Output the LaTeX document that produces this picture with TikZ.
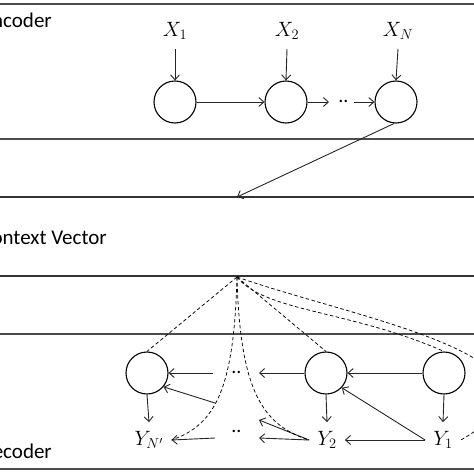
\documentclass[tikz,border=0pt]{standalone}
\usepackage{fontspec}
\setmainfont{Carlito}
\usetikzlibrary{arrows.meta}

\tikzset{
  cell/.style={draw,circle,minimum size=42pt,inner sep=0pt,line width=1.1pt},
  flow/.style={-{Straight Barb[length=5pt,width=9pt]},line width=0.9pt,draw=black!85},
  attn/.style={dash pattern=on 3.5pt off 2.5pt,line width=0.75pt},
  band/.style={line width=2.2pt,draw=black!70},
  thinband/.style={line width=1.4pt,draw=black!80},
  lbl/.style={font=\fontsize{21}{24}\selectfont,inner xsep=8pt,inner ysep=9pt},
  dots/.style={font=\fontsize{20}{24}\selectfont,inner sep=0pt},
  title/.style={font=\fontsize{21}{24}\selectfont,anchor=base east,inner sep=0pt},
}

\begin{document}
\begin{tikzpicture}[x=1pt,y=-1pt]
\useasboundingbox (0,0) rectangle (474,474);

% frame of the three parts
\draw[band] (0,4) -- (474,4);
\draw[band] (0,139) -- (474,139);
\draw[thinband] (0,197) -- (474,197);
\draw[thinband] (0,276) -- (474,276);
\draw[band] (0,334) -- (474,334);
\draw[band] (0,469) -- (474,469);

\node[title] (enc) at (52,27) {Encoder};
\node[title] (ctx) at (107,244) {Context Vector};
\node[title] (dec) at (52,458) {Decoder};

% encoder
\node[cell] (enc1) at (175,102) {};
\node[cell] (enc2) at (286,102) {};
\node[cell] (encN) at (396,102) {};
\node[lbl] (x1) at (175,31) {$X_1$};
\node[lbl] (x2) at (287,31) {$X_2$};
\node[lbl] (xN) at (398,31) {$X_N$};
\node[dots] (edots) at (343.5,101) {..};
\coordinate (egapL) at (329,102);
\coordinate (egapR) at (354,102);

\draw[flow] (x1.south) -- (enc1.north);
\draw[flow] (x2.south) -- (enc2.north);
\draw[flow] (xN.south) -- (encN.north);
\draw[flow] (enc1) -- (enc2);
\draw[flow] (enc2) -- (egapL);
\draw[flow] (egapR) -- (encN);

% context vector
\coordinate (cin) at (237,197);
\coordinate (cout) at (237,277);
\draw[flow] (encN.-95) -- (cin);

% decoder
\node[cell] (dec1) at (444,373) {};
\node[cell] (dec2) at (326,373) {};
\node[cell] (decN) at (147,373) {};
\node[lbl] (y1) at (443,440) {$Y_1$};
\node[lbl] (y2) at (327,440) {$Y_2$};
\node[lbl] (yN) at (149,440) {$Y_{N'}$};
\node[dots] (ddotsA) at (236.5,372) {..};
\node[dots] (ddotsB) at (236.5,431) {..};
\coordinate (dgapA) at (259,373);
\coordinate (dgapB) at (213,373);
\coordinate (dgapC) at (259,420);
\coordinate (dgapD) at (259,438);
\coordinate (dgapE) at (215,403);
\coordinate (dgapF) at (215,438);

\draw[flow] (dec1.south) -- (y1.north);
\draw[flow] (dec2.south) -- (y2.north);
\draw[flow] (decN.south) -- (yN.north);
\draw[flow] (dec1) -- (dec2);
\draw[flow] (dec2) -- (dgapA);
\draw[flow] (dgapB) -- (decN);
\draw[flow] (y1.west) -- (dec2.-43);
\draw[flow] (y1.west) -- (y2.east);
\draw[flow] (y2.west) -- (dgapC);
\draw[flow] (y2.west) -- (dgapD);
\draw[flow] (dgapE) -- (decN.-40);
\draw[flow] (dgapF) -- (yN.east);

% attention from the context vector
\draw[attn] (cout) -- (decN.north);
\draw[attn] (cout) .. controls (234,390) and (215,425) .. (yN.east);
\draw[attn] (cout) .. controls (240,390) and (262,425) .. (y2.west);
\draw[attn] (cout) -- (dec2.north);
\draw[attn] (cout) .. controls (265,312) and (350,310) .. (dec1.north);
\draw[attn] (cout) .. controls (360,320) and (600,360) .. (y1.east);
\end{tikzpicture}
\end{document}
